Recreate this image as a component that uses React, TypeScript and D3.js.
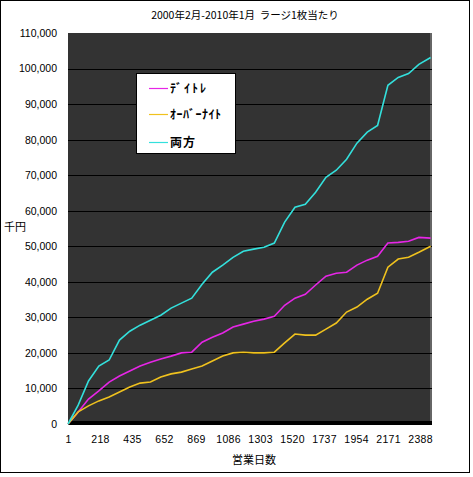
import * as d3 from "d3";
import { useEffect, useRef } from "react";

// trading day index (x) and cumulative P/L in 千円
const days = [
  1, 70, 140, 210, 280, 350, 420, 490, 560, 630, 700, 770, 840, 910, 980, 1050,
  1120, 1190, 1260, 1330, 1400, 1470, 1540, 1610, 1680, 1750, 1820, 1890, 1960,
  2030, 2100, 2170, 2240, 2310, 2380, 2460,
];
const dayTrade = [
  0, 3400, 7000, 9300, 11800, 13500, 14900, 16300, 17400, 18300, 19100, 20000,
  20200, 23000, 24400, 25600, 27300, 28100, 28900, 29500, 30300, 33400, 35400,
  36500, 39100, 41600, 42400, 42700, 44700, 46100, 47200, 50900, 51100, 51400,
  52500, 52300,
];
const overnight = [
  0, 3400, 5100, 6500, 7600, 9000, 10400, 11500, 11800, 13200, 14100, 14600,
  15500, 16300, 17700, 19100, 20000, 20200, 20000, 20000, 20200, 22800, 25300,
  25000, 25000, 26700, 28400, 31500, 32900, 35100, 36800, 44100, 46400, 46900,
  48300, 50000,
];
const both = [
  0, 5300, 12100, 16300, 18000, 23600, 26100, 27800, 29200, 30600, 32600, 34000,
  35400, 39300, 42700, 44700, 46900, 48600, 49200, 49700, 50900, 56800, 61000,
  61800, 65200, 69400, 71400, 74500, 79000, 82100, 84000, 95300, 97500, 98600,
  101200, 103100,
];
const seriesNames = ["ﾃﾞｲﾄﾚ", "ｵｰﾊﾞｰﾅｲﾄ", "両方"];
const seriesColors = ["#e626e6", "#f0c21e", "#33e0dc"];
const xTicks = d3.range(1, 2400, 217);
const yTicks = d3.range(0, 110001, 10000);

const App = () => {
  const ref = useRef<SVGSVGElement>(null);

  useEffect(() => {
    const svg = d3.select(ref.current);
    svg.selectAll("*").remove();
    const width = 473;
    const height = 477;
    svg.attr("width", width).attr("height", height);

    const jp = "'Noto Sans CJK JP', sans-serif";
    const num = "'Liberation Sans', Arial, sans-serif";
    const plot = { left: 68, right: 432, top: 33, bottom: 424 };

    const x = d3.scaleLinear().domain([1, 2469]).range([plot.left, plot.right]);
    const y = d3.scaleLinear().domain([0, 110000]).range([plot.bottom, plot.top]);

    svg.append("rect").attr("width", width).attr("height", height).attr("fill", "#fff");
    svg
      .append("rect")
      .attr("x", 0.5)
      .attr("y", 0.5)
      .attr("width", 469)
      .attr("height", 472)
      .attr("fill", "none")
      .attr("stroke", "#000");

    // plot area
    svg
      .append("rect")
      .attr("x", plot.left)
      .attr("y", plot.top)
      .attr("width", plot.right - plot.left)
      .attr("height", plot.bottom - plot.top)
      .attr("fill", "#333");
    svg
      .append("line")
      .attr("x1", plot.right - 1)
      .attr("x2", plot.right - 1)
      .attr("y1", plot.top)
      .attr("y2", plot.bottom)
      .attr("stroke", "#666")
      .attr("stroke-width", 2);

    // gridlines
    svg
      .append("g")
      .selectAll("line")
      .data(yTicks.filter((t) => t > 0 && t < 110000))
      .enter()
      .append("line")
      .attr("x1", plot.left)
      .attr("x2", plot.right)
      .attr("y1", (d) => Math.round(y(d)) + 0.5)
      .attr("y2", (d) => Math.round(y(d)) + 0.5)
      .attr("stroke", "#000");

    // floor
    svg
      .append("rect")
      .attr("x", plot.left)
      .attr("y", y(0) - 3)
      .attr("width", plot.right - plot.left)
      .attr("height", 4)
      .attr("fill", "#000");

    // y axis
    const yAxis = d3
      .axisLeft(y)
      .tickValues(yTicks)
      .tickSize(0)
      .tickPadding(11)
      .tickFormat((d) => d3.format(",")(d as number));
    const yg = svg.append("g").attr("transform", `translate(${plot.left},0)`).call(yAxis);
    yg.select(".domain").remove();
    yg.selectAll("text").attr("font-family", num).attr("font-size", 10.5).attr("fill", "#000");

    // x axis
    const xAxis = d3.axisBottom(x).tickValues(xTicks).tickSize(0).tickPadding(12).tickFormat(d3.format("d"));
    const xg = svg.append("g").attr("transform", `translate(0,${plot.bottom})`).call(xAxis);
    xg.select(".domain").remove();
    xg.selectAll("text")
      .attr("font-family", num)
      .attr("font-size", 10.5)
      .attr("letter-spacing", 0.3)
      .attr("fill", "#000");

    // series
    const line = d3
      .line<number>()
      .x((_, i) => x(days[i]))
      .y((d) => y(d));
    [dayTrade, overnight, both].forEach((s, i) => {
      svg
        .append("path")
        .datum(s)
        .attr("d", line)
        .attr("fill", "none")
        .attr("stroke", seriesColors[i])
        .attr("stroke-width", 1.6);
    });

    // titles
    svg
      .append("text")
      .attr("x", 245)
      .attr("y", 19)
      .attr("text-anchor", "middle")
      .attr("font-family", jp)
      .attr("font-size", 10.5)
      .text("2000年2月-2010年1月\u00a0\u00a0ラージ1枚当たり");
    svg
      .append("text")
      .attr("x", 4)
      .attr("y", 231)
      .attr("font-family", jp)
      .attr("font-size", 11)
      .text("千円");
    svg
      .append("text")
      .attr("x", 254)
      .attr("y", 464)
      .attr("text-anchor", "middle")
      .attr("font-family", jp)
      .attr("font-size", 11)
      .text("営業日数");

    // legend
    const lg = svg.append("g").attr("transform", "translate(136,73)");
    lg.append("rect")
      .attr("x", 0.5)
      .attr("y", 0.5)
      .attr("width", 99)
      .attr("height", 80)
      .attr("fill", "#fff")
      .attr("stroke", "#000");
    seriesNames.forEach((name, i) => {
      const ly = [15, 41, 69][i];
      lg.append("line")
        .attr("x1", 13)
        .attr("x2", 32)
        .attr("y1", ly + 0.5)
        .attr("y2", ly + 0.5)
        .attr("stroke", seriesColors[i])
        .attr("stroke-width", 1.2);
      lg.append("text")
        .attr("x", 34)
        .attr("y", ly + 4.5)
        .attr("font-family", jp)
        .attr("font-size", 12)
        .attr("font-weight", "bold")
        .attr("letter-spacing", [2, 0.5, 1][i])
        .text(name);
    });
  }, []);

  return <svg ref={ref} style={{ position: "absolute", left: 0, top: 0 }}></svg>;
};

export default App;
